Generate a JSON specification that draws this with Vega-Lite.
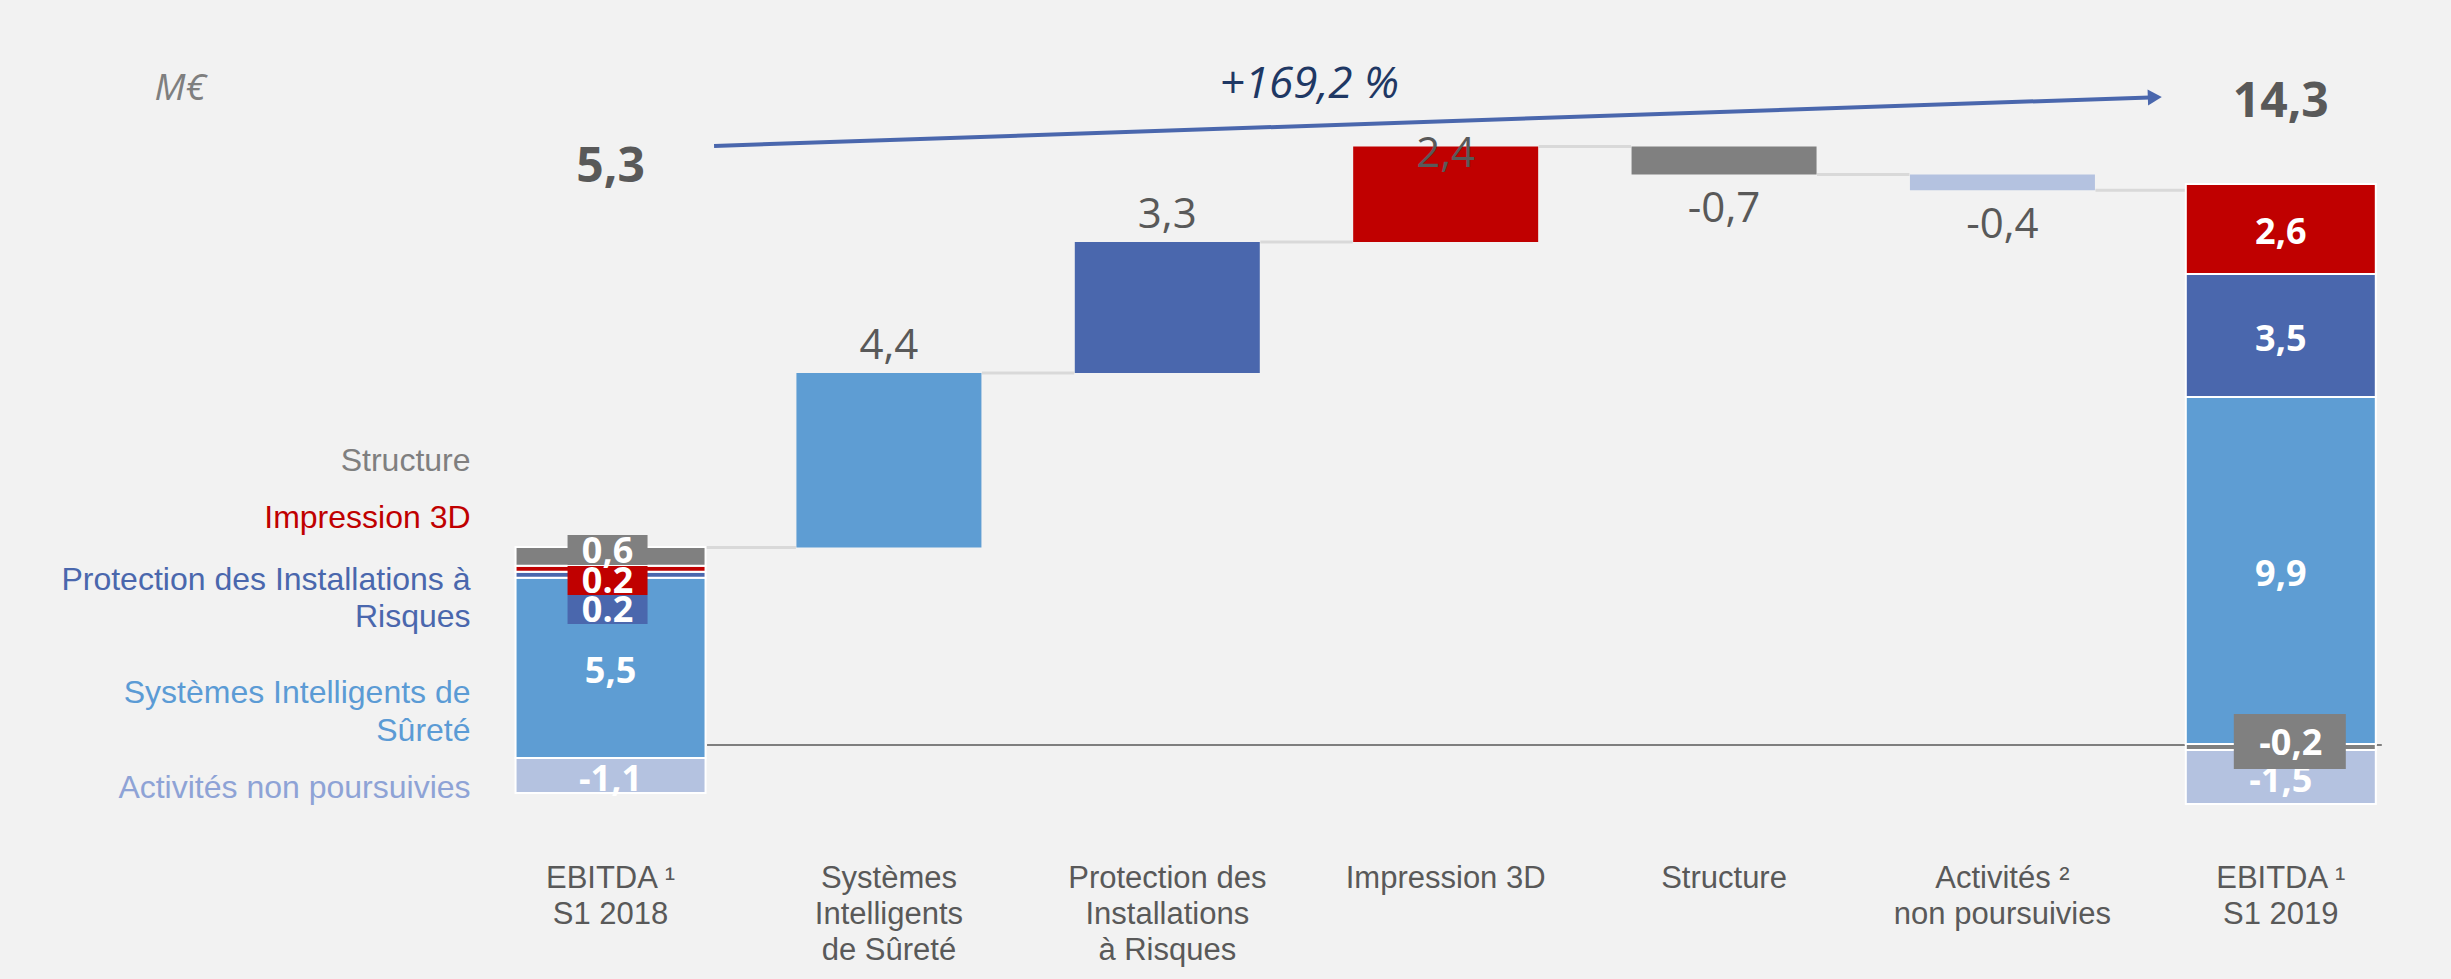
{
  "$schema": "https://vega.github.io/schema/vega-lite/v6.json",
  "width": 2417,
  "height": 979,
  "autosize": {"type": "none"},
  "padding": {"left": 0, "top": 0, "right": 34, "bottom": 0},
  "background": "#F2F2F2",
  "config": {"view": {"stroke": null}},
  "datasets": {
    "waterfall": [
      {"cat": "Systèmes|Intelligents|de Sûreté", "series": "Systèmes Intelligents de Sûreté", "start": 5.3, "end": 9.7, "label": "4,4"},
      {"cat": "Protection des|Installations|à Risques", "series": "Protection des Installations à Risques", "start": 9.7, "end": 13.0, "label": "3,3"},
      {"cat": "Impression 3D", "series": "Impression 3D", "start": 13.0, "end": 15.4, "label": "2,4"},
      {"cat": "Structure", "series": "Structure", "start": 15.4, "end": 14.7, "label": "-0,7"},
      {"cat": "Activités ²|non poursuivies", "series": "Activités non poursuivies", "start": 14.7, "end": 14.3, "label": "-0,4"}
    ],
    "stacks": [
      {"cat": "EBITDA ¹|S1 2018", "series": "Activités non poursuivies", "lo": -0.88, "hi": 0.0, "label": "-1,1", "at": -0.504},
      {"cat": "EBITDA ¹|S1 2018", "series": "Systèmes Intelligents de Sûreté", "lo": 0.0, "hi": 4.54, "label": "5,5", "at": 2.217},
      {"cat": "EBITDA ¹|S1 2018", "series": "Protection des Installations à Risques", "lo": 4.54, "hi": 4.69, "label": null, "at": null},
      {"cat": "EBITDA ¹|S1 2018", "series": "Impression 3D", "lo": 4.69, "hi": 4.84, "label": null, "at": null},
      {"cat": "EBITDA ¹|S1 2018", "series": "Structure", "lo": 4.84, "hi": 5.315, "label": null, "at": null},
      {"cat": "EBITDA ¹|S1 2019", "series": "Activités non poursuivies", "lo": -1.16, "hi": 0.2, "label": "-1,5", "at": -0.529},
      {"cat": "EBITDA ¹|S1 2019", "series": "Structure", "lo": 0.2, "hi": 0.35, "label": null, "at": null},
      {"cat": "EBITDA ¹|S1 2019", "series": "Systèmes Intelligents de Sûreté", "lo": 0.35, "hi": 9.09, "label": "9,9", "at": 4.66},
      {"cat": "EBITDA ¹|S1 2019", "series": "Protection des Installations à Risques", "lo": 9.09, "hi": 12.19, "label": "3,5", "at": 10.579},
      {"cat": "EBITDA ¹|S1 2019", "series": "Impression 3D", "lo": 12.19, "hi": 14.46, "label": "2,6", "at": 13.275}
    ],
    "boxes": [
      {"cat": "EBITDA ¹|S1 2018", "series": "Structure", "lo": 4.861, "hi": 5.617, "at": 5.239, "label": "0,6"},
      {"cat": "EBITDA ¹|S1 2018", "series": "Impression 3D", "lo": 4.106, "hi": 4.836, "at": 4.471, "label": "0.2"},
      {"cat": "EBITDA ¹|S1 2018", "series": "Protection des Installations à Risques", "lo": 3.375, "hi": 4.106, "at": 3.753, "label": "0.2"},
      {"cat": "EBITDA ¹|S1 2019", "series": "Structure", "lo": -0.277, "hi": 1.108, "at": 0.403, "label": "-0,2"}
    ],
    "connectors": [
      {"cat": "EBITDA ¹|S1 2018", "cat_to": "Systèmes|Intelligents|de Sûreté", "level": 5.3},
      {"cat": "Systèmes|Intelligents|de Sûreté", "cat_to": "Protection des|Installations|à Risques", "level": 9.7},
      {"cat": "Protection des|Installations|à Risques", "cat_to": "Impression 3D", "level": 13.0},
      {"cat": "Impression 3D", "cat_to": "Structure", "level": 15.4},
      {"cat": "Structure", "cat_to": "Activités ²|non poursuivies", "level": 14.7},
      {"cat": "Activités ²|non poursuivies", "cat_to": "EBITDA ¹|S1 2019", "level": 14.3}
    ],
    "legendlabels": [
      {"cat": "EBITDA ¹|S1 2018", "series": "Structure", "text": "Structure", "at": 7.229},
      {"cat": "EBITDA ¹|S1 2018", "series": "Impression 3D", "text": "Impression 3D", "at": 5.793},
      {"cat": "EBITDA ¹|S1 2018", "series": "Protection des Installations à Risques", "text": "Protection des Installations à|Risques", "at": 4.232},
      {"cat": "EBITDA ¹|S1 2018", "series": "Systèmes Intelligents de Sûreté", "text": "Systèmes Intelligents de|Sûreté", "at": 1.385},
      {"cat": "EBITDA ¹|S1 2018", "series": "Activités non poursuivies", "text": "Activités non poursuivies", "at": -1.008}
    ],
    "totals": [
      {"cat": "EBITDA ¹|S1 2018", "text": "5,3", "at": 14.509},
      {"cat": "EBITDA ¹|S1 2019", "text": "14,3", "at": 16.146}
    ]
  },
  "encoding": {
    "x": {
      "field": "cat",
      "type": "nominal",
      "scale": {
        "domain": ["EBITDA ¹|S1 2018", "Systèmes|Intelligents|de Sûreté", "Protection des|Installations|à Risques", "Impression 3D", "Structure", "Activités ²|non poursuivies", "EBITDA ¹|S1 2019"],
        "paddingInner": 0.3175,
        "paddingOuter": 1,
        "align": 0.926
      },
      "axis": {
        "orient": "bottom",
        "offset": -116,
        "domain": false,
        "ticks": false,
        "tickSize": 0,
        "labelPadding": 0,
        "labelAngle": 0,
        "labelBaseline": "top",
        "labelExpr": "split(datum.value, '|')",
        "labelFont": "Liberation Sans",
        "labelFontSize": 31,
        "labelColor": "#595959",
        "labelLineHeight": 36,
        "labelLimit": 500,
        "labelOverlap": false,
        "title": null
      }
    }
  },
  "layer": [
    {
      "data": {"values": [{"cat": "EBITDA ¹|S1 2018", "cat_to": "EBITDA ¹|S1 2019", "level": 0.327}]},
      "mark": {"type": "rule", "color": "#7F7F7F", "strokeWidth": 2, "xOffset": 96.5, "x2Offset": 101},
      "encoding": {
        "x2": {"field": "cat_to"},
        "y": {"field": "level", "type": "quantitative", "scale": {"domain": [-5.567, 19.093], "nice": false, "zero": false}, "axis": null}
      }
    },
    {
      "data": {"name": "connectors"},
      "mark": {"type": "rule", "color": "#D9D9D9", "strokeWidth": 3, "xOffset": 93, "x2Offset": -93},
      "encoding": {
        "x2": {"field": "cat_to"},
        "y": {"field": "level", "type": "quantitative", "scale": {"domain": [-5.567, 19.093], "nice": false, "zero": false}, "axis": null}
      }
    },
    {
      "data": {"name": "waterfall"},
      "mark": {"type": "bar", "width": 185},
      "encoding": {
        "y": {"field": "start", "type": "quantitative", "scale": {"domain": [-5.567, 19.093], "nice": false, "zero": false}, "axis": null},
        "y2": {"field": "end"},
        "color": {"field": "series", "type": "nominal", "legend": null,
          "scale": {"domain": ["Systèmes Intelligents de Sûreté", "Protection des Installations à Risques", "Impression 3D", "Structure", "Activités non poursuivies"],
                    "range": ["#5E9DD3", "#4A67AD", "#C00000", "#808080", "#B4C2E0"]}}
      }
    },
    {
      "data": {"name": "stacks"},
      "mark": {"type": "bar", "stroke": "#FFFFFF", "strokeWidth": 2},
      "encoding": {
        "y": {"field": "lo", "type": "quantitative", "scale": {"domain": [-5.567, 19.093], "nice": false, "zero": false}, "axis": null},
        "y2": {"field": "hi"},
        "color": {"field": "series", "type": "nominal", "legend": null,
          "scale": {"domain": ["Systèmes Intelligents de Sûreté", "Protection des Installations à Risques", "Impression 3D", "Structure", "Activités non poursuivies"],
                    "range": ["#5E9DD3", "#4A67AD", "#C00000", "#808080", "#B4C2E0"]}}
      }
    },
    {
      "data": {"name": "stacks"},
      "transform": [{"filter": "datum.label != null"}],
      "mark": {"type": "text", "font": "Open Sans", "fontWeight": "bold", "fontSize": 36, "color": "#FFFFFF", "baseline": "middle", "align": "center", "dy": 2},
      "encoding": {
        "y": {"field": "at", "type": "quantitative", "scale": {"domain": [-5.567, 19.093], "nice": false, "zero": false}, "axis": null},
        "text": {"field": "label"}
      }
    },
    {
      "data": {"name": "boxes"},
      "transform": [{"filter": "datum.cat == 'EBITDA ¹|S1 2018'"}],
      "mark": {"type": "bar", "width": 80, "xOffset": -3},
      "encoding": {
        "y": {"field": "lo", "type": "quantitative", "scale": {"domain": [-5.567, 19.093], "nice": false, "zero": false}, "axis": null},
        "y2": {"field": "hi"},
        "color": {"field": "series", "type": "nominal", "legend": null,
          "scale": {"domain": ["Systèmes Intelligents de Sûreté", "Protection des Installations à Risques", "Impression 3D", "Structure", "Activités non poursuivies"],
                    "range": ["#5E9DD3", "#4A67AD", "#C00000", "#808080", "#B4C2E0"]}}
      }
    },
    {
      "data": {"name": "boxes"},
      "transform": [{"filter": "datum.cat == 'EBITDA ¹|S1 2019'"}],
      "mark": {"type": "bar", "width": 112, "xOffset": 9},
      "encoding": {
        "y": {"field": "lo", "type": "quantitative", "scale": {"domain": [-5.567, 19.093], "nice": false, "zero": false}, "axis": null},
        "y2": {"field": "hi"},
        "color": {"field": "series", "type": "nominal", "legend": null,
          "scale": {"domain": ["Systèmes Intelligents de Sûreté", "Protection des Installations à Risques", "Impression 3D", "Structure", "Activités non poursuivies"],
                    "range": ["#5E9DD3", "#4A67AD", "#C00000", "#808080", "#B4C2E0"]}}
      }
    },
    {
      "data": {"name": "boxes"},
      "transform": [{"filter": "datum.cat == 'EBITDA ¹|S1 2018'"}],
      "mark": {"type": "text", "font": "Open Sans", "fontWeight": "bold", "fontSize": 36, "color": "#FFFFFF", "baseline": "middle", "align": "center", "dy": 2, "dx": -3},
      "encoding": {
        "y": {"field": "at", "type": "quantitative", "scale": {"domain": [-5.567, 19.093], "nice": false, "zero": false}, "axis": null},
        "text": {"field": "label"}
      }
    },
    {
      "data": {"name": "boxes"},
      "transform": [{"filter": "datum.cat == 'EBITDA ¹|S1 2019'"}],
      "mark": {"type": "text", "font": "Open Sans", "fontWeight": "bold", "fontSize": 36, "color": "#FFFFFF", "baseline": "middle", "align": "center", "dy": 2, "dx": 10},
      "encoding": {
        "y": {"field": "at", "type": "quantitative", "scale": {"domain": [-5.567, 19.093], "nice": false, "zero": false}, "axis": null},
        "text": {"field": "label"}
      }
    },
    {
      "data": {"name": "waterfall"},
      "transform": [{"filter": "datum.end > datum.start && datum.series != 'Impression 3D'"}],
      "mark": {"type": "text", "font": "Open Sans", "fontSize": 42, "color": "#595959", "baseline": "alphabetic", "align": "center", "dy": -14},
      "encoding": {
        "y": {"field": "end", "type": "quantitative", "scale": {"domain": [-5.567, 19.093], "nice": false, "zero": false}, "axis": null},
        "text": {"field": "label"}
      }
    },
    {
      "data": {"name": "waterfall"},
      "transform": [{"filter": "datum.series == 'Impression 3D'"}],
      "mark": {"type": "text", "font": "Open Sans", "fontSize": 42, "color": "#595959", "baseline": "alphabetic", "align": "center", "dy": 20},
      "encoding": {
        "y": {"field": "end", "type": "quantitative", "scale": {"domain": [-5.567, 19.093], "nice": false, "zero": false}, "axis": null},
        "text": {"field": "label"}
      }
    },
    {
      "data": {"name": "waterfall"},
      "transform": [{"filter": "datum.end < datum.start"}],
      "mark": {"type": "text", "font": "Open Sans", "fontSize": 42, "color": "#595959", "baseline": "alphabetic", "align": "center", "dy": 48},
      "encoding": {
        "y": {"field": "end", "type": "quantitative", "scale": {"domain": [-5.567, 19.093], "nice": false, "zero": false}, "axis": null},
        "text": {"field": "label"}
      }
    },
    {
      "data": {"name": "legendlabels"},
      "mark": {"type": "text", "font": "Liberation Sans", "fontSize": 32, "baseline": "alphabetic", "align": "right", "dx": -140, "lineBreak": "|", "lineHeight": 37.5},
      "encoding": {
        "y": {"field": "at", "type": "quantitative", "scale": {"domain": [-5.567, 19.093], "nice": false, "zero": false}, "axis": null},
        "text": {"field": "text"},
        "color": {"field": "series", "type": "nominal", "legend": null,
          "scale": {"domain": ["Systèmes Intelligents de Sûreté", "Protection des Installations à Risques", "Impression 3D", "Structure", "Activités non poursuivies"],
                    "range": ["#5B9BD5", "#4A67AD", "#C00000", "#7F7F7F", "#8EA3D6"]}}
      }
    },
    {
      "data": {"name": "totals"},
      "mark": {"type": "text", "font": "Open Sans", "fontWeight": "bold", "fontSize": 48, "color": "#595959", "baseline": "alphabetic", "align": "center"},
      "encoding": {
        "y": {"field": "at", "type": "quantitative", "scale": {"domain": [-5.567, 19.093], "nice": false, "zero": false}, "axis": null},
        "text": {"field": "text"}
      }
    },
    {
      "data": {"values": [{"cat": "EBITDA ¹|S1 2018", "text": "M€", "at": 16.574}]},
      "mark": {"type": "text", "font": "Open Sans", "fontStyle": "italic", "fontSize": 37, "color": "#7F7F7F", "baseline": "alphabetic", "align": "left", "dx": -456},
      "encoding": {
        "y": {"field": "at", "type": "quantitative", "scale": {"domain": [-5.567, 19.093], "nice": false, "zero": false}, "axis": null},
        "text": {"field": "text"}
      }
    },
    {
      "data": {"values": [{"cat": "Protection des|Installations|à Risques", "text": "+169,2 %", "at": 16.62}]},
      "mark": {"type": "text", "font": "Open Sans", "fontStyle": "italic", "fontSize": 44, "color": "#1F3864", "baseline": "alphabetic", "align": "center", "dx": 142},
      "encoding": {
        "y": {"field": "at", "type": "quantitative", "scale": {"domain": [-5.567, 19.093], "nice": false, "zero": false}, "axis": null},
        "text": {"field": "text"}
      }
    },
    {
      "data": {"values": [{"cat": "EBITDA ¹|S1 2018", "cat_to": "EBITDA ¹|S1 2019", "from": 15.416, "to": 16.639}]},
      "mark": {"type": "rule", "color": "#4A67AD", "strokeWidth": 4, "xOffset": 103.5, "x2Offset": -131},
      "encoding": {
        "x2": {"field": "cat_to"},
        "y": {"field": "from", "type": "quantitative", "scale": {"domain": [-5.567, 19.093], "nice": false, "zero": false}, "axis": null},
        "y2": {"field": "to"}
      }
    },
    {
      "data": {"values": [{"cat": "EBITDA ¹|S1 2019", "at": 16.643}]},
      "mark": {"type": "point", "shape": "triangle-right", "filled": true, "size": 260, "opacity": 1, "color": "#4A67AD", "xOffset": -126, "angle": -2},
      "encoding": {
        "y": {"field": "at", "type": "quantitative", "scale": {"domain": [-5.567, 19.093], "nice": false, "zero": false}, "axis": null}
      }
    }
  ],
  "resolve": {"scale": {"color": "independent"}}
}
